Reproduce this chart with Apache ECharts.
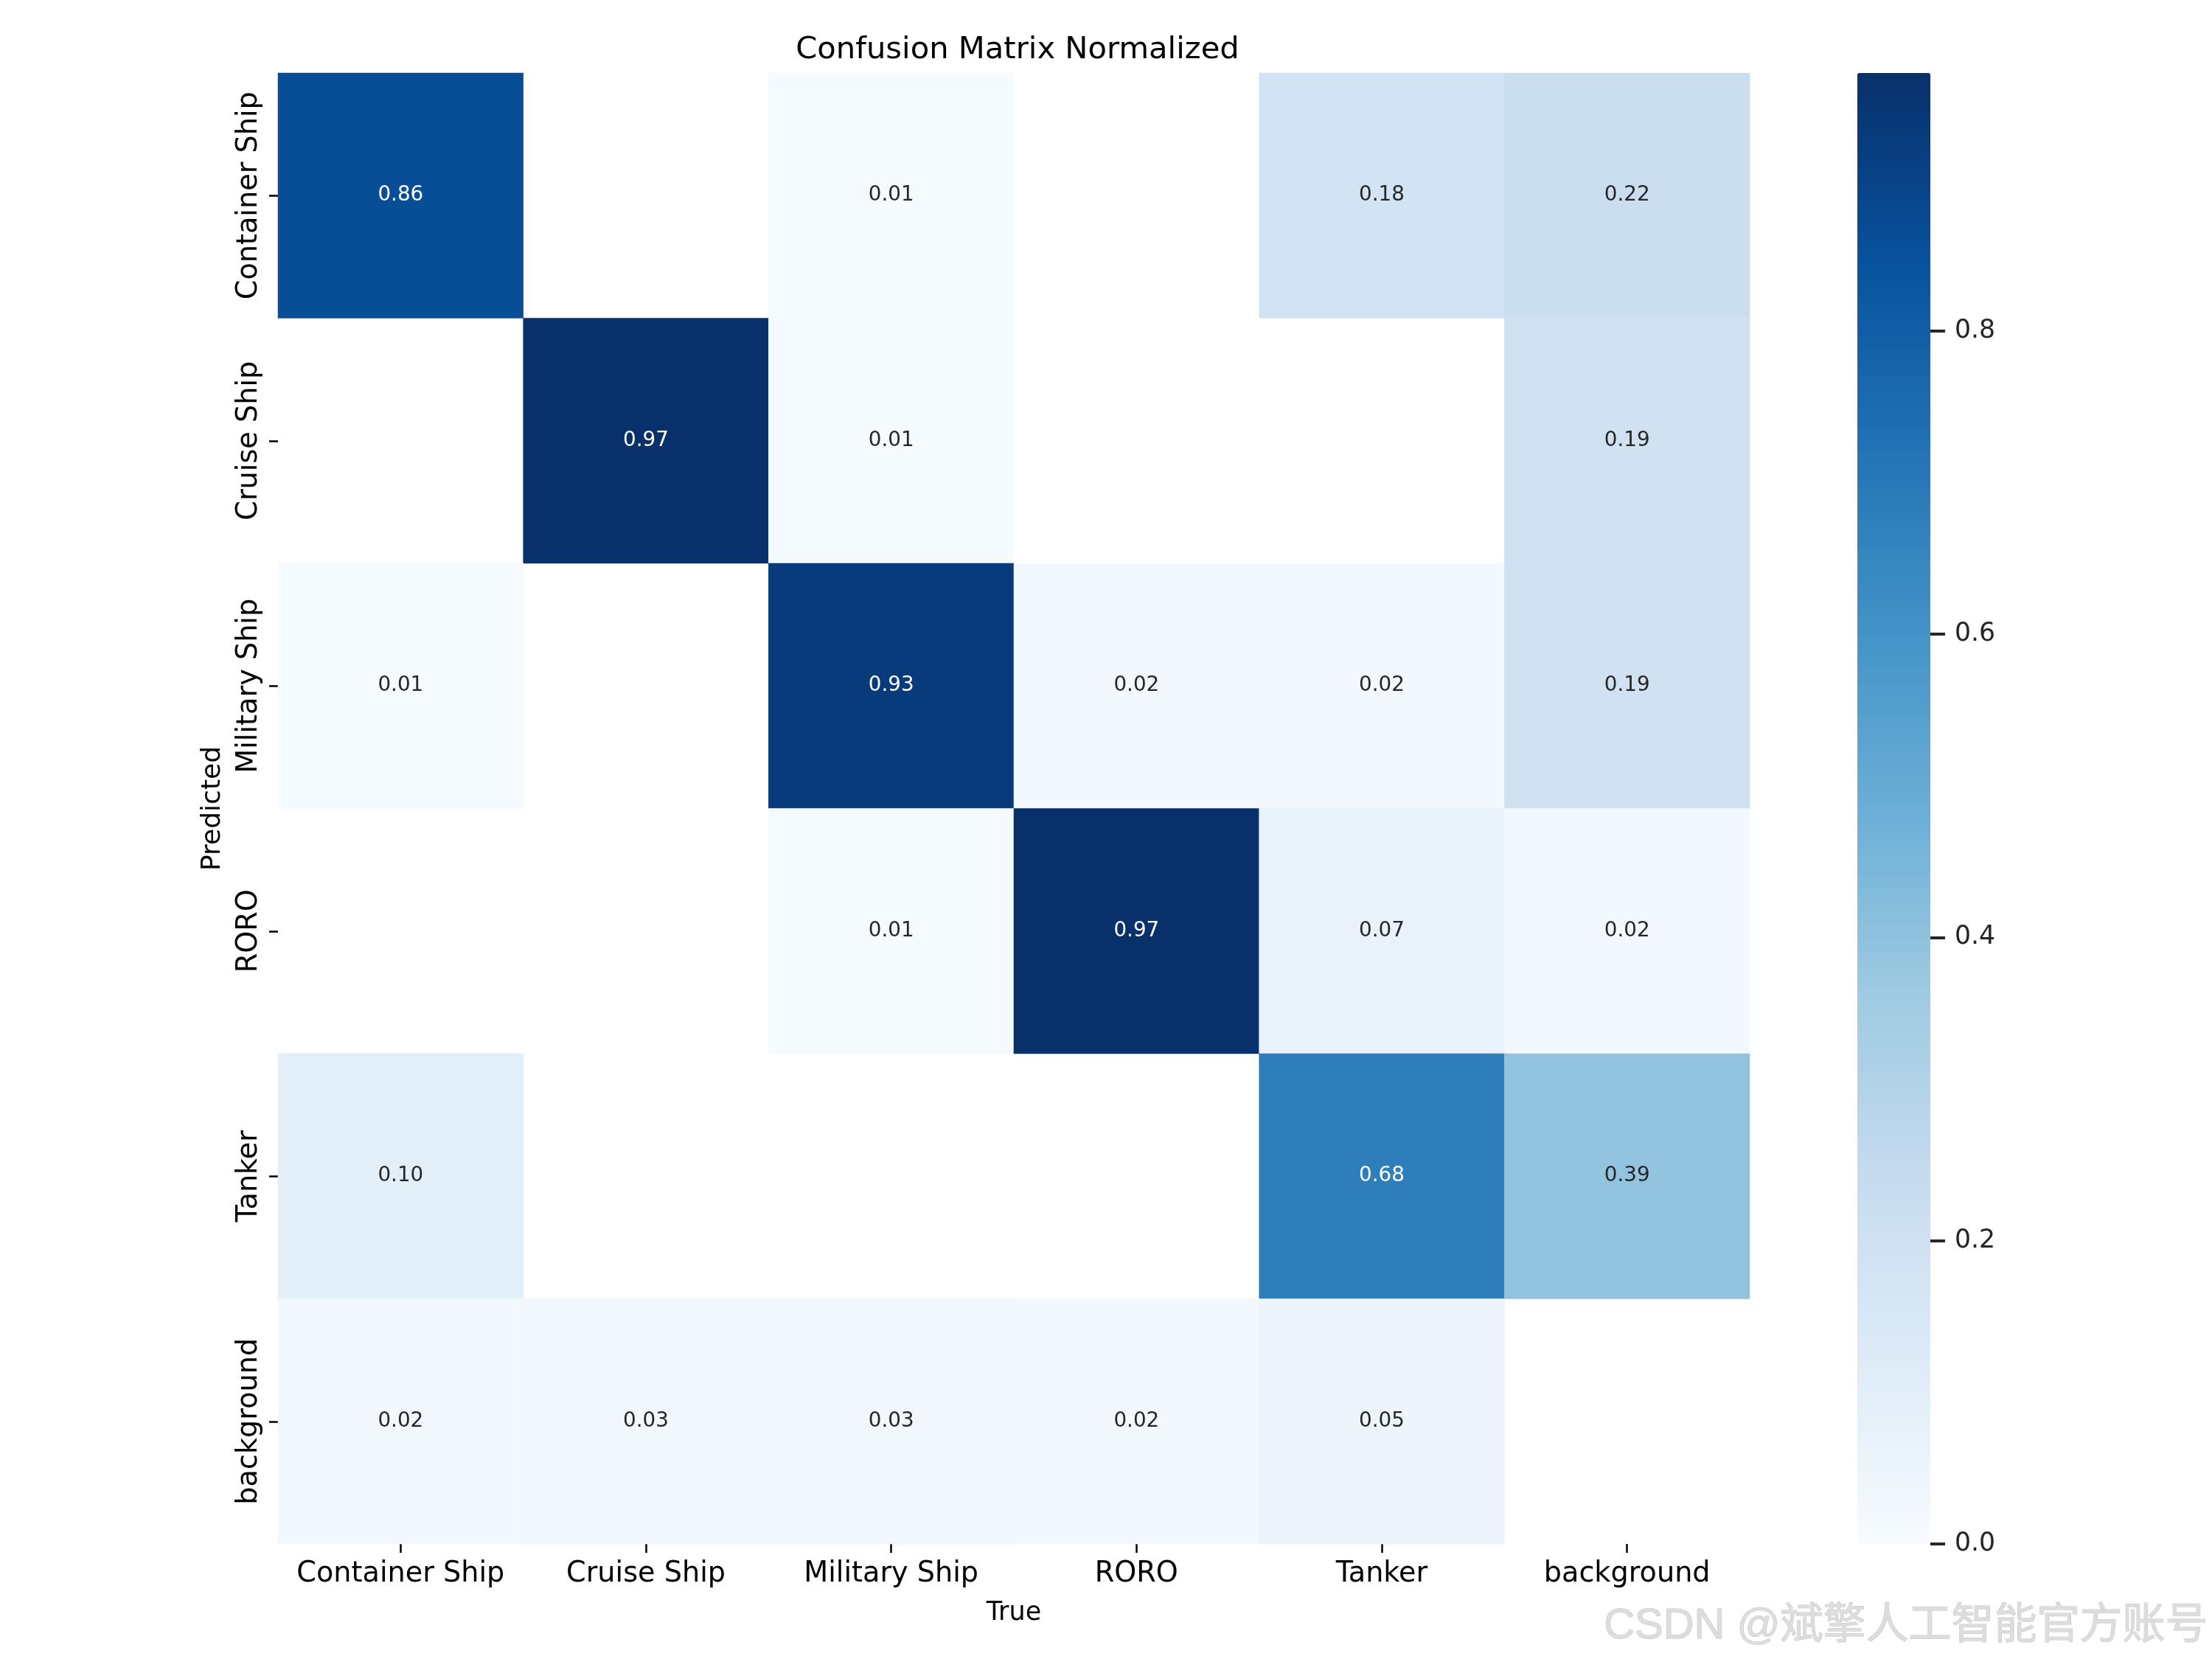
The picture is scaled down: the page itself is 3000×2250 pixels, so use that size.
<!DOCTYPE html>
<html>
<head>
<meta charset="utf-8">
<script src="https://cdn.jsdelivr.net/npm/echarts@6/dist/echarts.min.js"></script>
<style>html,body{margin:0;padding:0;background:#fff}#c{width:3000px;height:2250px}</style>
</head>
<body>
<div id="c"></div>
<script>
// Categories (True = columns on x, Predicted = rows on y)
const classes = ['Container Ship', 'Cruise Ship', 'Military Ship', 'RORO', 'Tanker', 'background'];
// Rows = Predicted class; columns = True class; null = empty (blank) cell
const predContainerShip = [0.86, null, 0.01, null, 0.18, 0.22];
const predCruiseShip    = [null, 0.97, 0.01, null, null, 0.19];
const predMilitaryShip  = [0.01, null, 0.93, 0.02, 0.02, 0.19];
const predRORO          = [null, null, 0.01, 0.97, 0.07, 0.02];
const predTanker        = [0.10, null, null, null, 0.68, 0.39];
const predBackground    = [0.02, 0.03, 0.03, 0.02, 0.05, null];
const colorbarTickMax = 0.8, colorbarTickStep = 0.2;
const colorMin = 0, colorMax = 0.97;

const rows = [predContainerShip, predCruiseShip, predMilitaryShip, predRORO, predTanker, predBackground];
const blues = ['#f7fbff', '#deebf7', '#c6dbef', '#9ecae1', '#6baed6', '#4292c6', '#2171b5', '#08519c', '#08306b'];

const data = [];
rows.forEach((r, yi) => r.forEach((v, xi) => {
  if (v === null) return;
  data.push({ value: [xi, yi, v], label: { color: v > 0.55 ? '#ffffff' : '#262626' } });
}));

// geometry
const hmLeft = 377, hmTop = 99, hmW = 1996, hmH = 1995;
const cbLeft = 2519, cbW = 99;
// colorbar axis grid spans only the ticked part 0..0.8 of the 0..colorMax bar
const cbAxisH = hmH * colorbarTickMax / colorMax;
const cbAxisTop = hmTop + hmH - cbAxisH;

const FONT = '"DejaVu Sans", sans-serif';
const chart = echarts.init(document.getElementById('c'), null, { renderer: 'canvas' });
chart.setOption({
  backgroundColor: '#ffffff',
  animation: false,
  title: {
    text: 'Confusion Matrix Normalized',
    left: hmLeft + hmW / 2, top: 42, textAlign: 'center',
    textStyle: { fontFamily: FONT, fontSize: 41.7, fontWeight: 'normal', color: '#000' }
  },
  grid: [
    { left: hmLeft, top: hmTop, width: hmW, height: hmH },
    { left: cbLeft, top: cbAxisTop, width: cbW, height: cbAxisH }
  ],
  xAxis: [
    {
      type: 'category', gridIndex: 0, data: classes, position: 'bottom',
      name: 'True', nameLocation: 'middle', nameGap: 76,
      nameTextStyle: { fontFamily: FONT, fontSize: 35, color: '#000' },
      axisLine: { show: false },
      axisTick: { show: true, alignWithLabel: true, length: 12, lineStyle: { color: '#000', width: 2.5 } },
      axisLabel: { fontFamily: FONT, fontSize: 38.2, color: '#000', margin: 22, interval: 0 },
      splitLine: { show: false }, splitArea: { show: false }
    },
    { type: 'category', gridIndex: 1, show: false, data: [''] }
  ],
  yAxis: [
    {
      type: 'category', gridIndex: 0, data: classes, inverse: true,
      name: 'Predicted', nameLocation: 'middle', nameGap: 70, nameRotate: 90,
      nameTextStyle: { fontFamily: FONT, fontSize: 36, color: '#000' },
      axisLine: { show: false },
      axisTick: { show: true, alignWithLabel: true, length: 12, lineStyle: { color: '#000', width: 2.5 } },
      axisLabel: { fontFamily: FONT, fontSize: 38.2, color: '#000', margin: 20, rotate: 90, interval: 0 },
      splitLine: { show: false }, splitArea: { show: false }
    },
    {
      type: 'value', gridIndex: 1, position: 'right', min: 0, max: colorbarTickMax, interval: colorbarTickStep,
      z: 20,
      axisLine: { show: true, onZero: false, lineStyle: { color: 'rgba(0,0,0,0)' } },
      splitLine: { show: false },
      axisTick: { show: true, inside: false, length: 20, lineStyle: { color: '#262626', width: 4 } },
      axisLabel: { show: true, fontFamily: FONT, fontSize: 34.7, color: '#262626', margin: 33,
        formatter: v => v.toFixed(1) }
    }
  ],
  visualMap: {
    type: 'continuous', seriesIndex: 0, min: colorMin, max: colorMax,
    orient: 'vertical', left: cbLeft, top: hmTop, itemWidth: cbW, itemHeight: hmH,
    padding: 0, calculable: false, hoverLink: false, showLabel: false, z: 1,
    inRange: { color: blues }, textStyle: { color: 'rgba(0,0,0,0)' }
  },
  series: [{
    type: 'heatmap', xAxisIndex: 0, yAxisIndex: 0, data: data,
    label: { show: true, fontFamily: FONT, fontSize: 27.8, formatter: p => p.value[2].toFixed(2) },
    itemStyle: { borderWidth: 0 },
    emphasis: { disabled: true }
  }],
  graphic: [{
    type: 'text', right: 5, top: 2176, z: 100,
    style: {
      text: 'CSDN @斌擎人工智能官方账号',
      font: '58px "Liberation Sans", "Noto Sans CJK SC", sans-serif',
      fill: '#dddddd', stroke: '#c6c6c6', lineWidth: 1
    }
  }]
});
</script>
</body>
</html>
